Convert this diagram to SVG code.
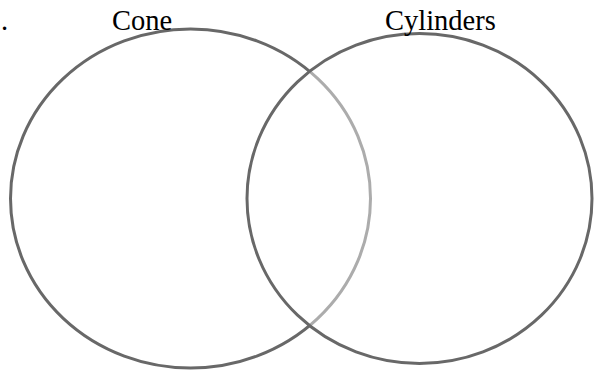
<svg xmlns="http://www.w3.org/2000/svg" width="594" height="372" viewBox="0 0 594 372">
<style>
.lbl{font-family:"Liberation Serif","Times New Roman",serif;font-size:28.5px;fill:#000}
.ring{stroke:#686868;stroke-width:3}
</style>
<rect width="594" height="372" fill="#fff"/>
<text class="lbl" x="1" y="30">.</text>
<g id="cone">
<ellipse class="ring" cx="190.5" cy="198.5" rx="180" ry="169.5" fill="none"/>
<text class="lbl" x="112" y="30">Cone</text>
</g>
<g id="cylinders">
<ellipse class="ring" cx="419.5" cy="198.5" rx="172.5" ry="165" fill="#fff" fill-opacity="0.45"/>
<text class="lbl" x="385" y="30">Cylinders</text>
</g>
<g id="connectors"></g>
</svg>
